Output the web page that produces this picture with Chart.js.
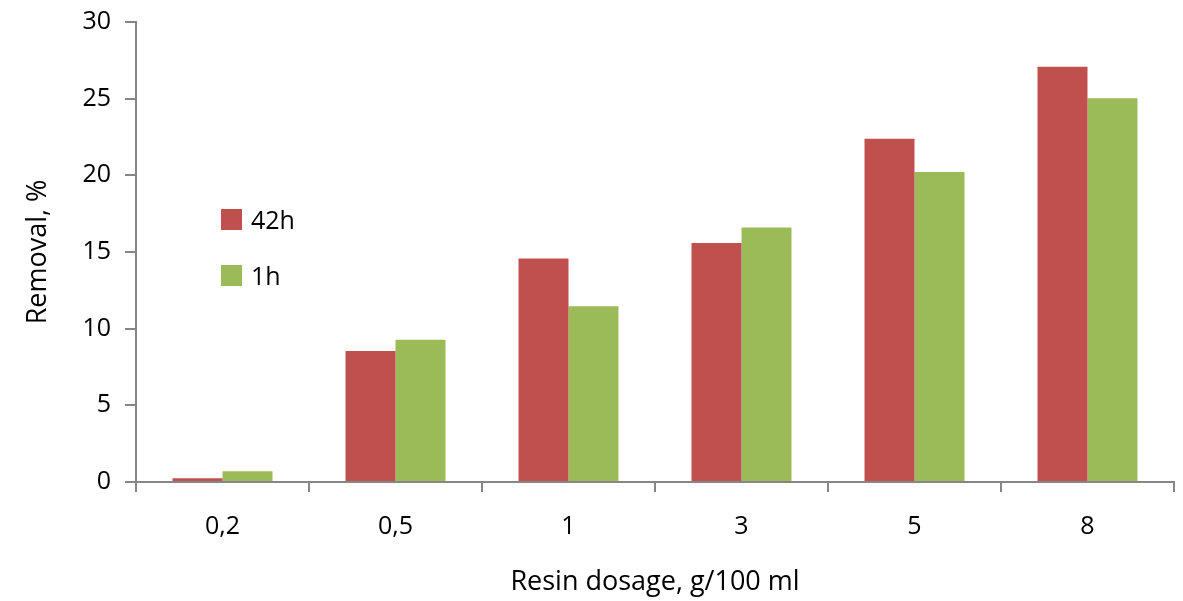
<!DOCTYPE html>
<html>
<head>
<meta charset="utf-8">
<script src="https://cdn.jsdelivr.net/npm/chart.js@4"></script>
<style>
  body { margin: 0; background: #fff; }
  #wrap { position: relative; width: 1183px; height: 601px; }
  .legend { position: absolute; left: 221px; font-family: "Open Sans", sans-serif; font-size: 25px; color: #000; }
  .legend span.box { display: inline-block; width: 21px; height: 21px; vertical-align: middle; margin-right: 9px; }
  .legend span.txt { vertical-align: middle; }
</style>
</head>
<body>
<div id="wrap">
  <canvas id="removal-chart" width="1183" height="601"></canvas>
  <div class="legend" style="top: 199px;"><span class="box" style="background:#C0504D"></span><span class="txt">42h</span></div>
  <div class="legend" style="top: 255px;"><span class="box" style="background:#9BBB59"></span><span class="txt">1h</span></div>
</div>
<script>
const dosages = ['0,2', '0,5', '1', '3', '5', '8'];
const removal42h = [0.25, 8.55, 14.57, 15.58, 22.38, 27.08];
const removal1h = [0.7, 9.28, 11.47, 16.6, 20.22, 25.02];
const yTicks = [0, 5, 10, 15, 20, 25, 30];

const axisColor = '#868686';
const fontFamily = '"Open Sans", sans-serif';

document.addEventListener('DOMContentLoaded', function () {
    const ctx = document.getElementById('removal-chart').getContext('2d');

    new Chart(ctx, {
        type: 'bar',
        data: {
            labels: dosages,
            datasets: [{
                label: '42h',
                data: removal42h,
                backgroundColor: '#C0504D'
            }, {
                label: '1h',
                data: removal1h,
                backgroundColor: '#9BBB59'
            }]
        },
        options: {
            responsive: false,
            animation: false,
            layout: {
                padding: { left: 22, right: 9, top: 22, bottom: 0 }
            },
            datasets: {
                bar: {
                    categoryPercentage: 0.578,
                    barPercentage: 1.0
                }
            },
            scales: {
                x: {
                    grid: {
                        drawOnChartArea: false,
                        drawTicks: true,
                        tickLength: 10,
                        color: axisColor,
                        lineWidth: 2
                    },
                    border: { color: axisColor, width: 2 },
                    ticks: {
                        color: '#000',
                        padding: 20,
                        font: { family: fontFamily, size: 25 }
                    },
                    title: {
                        display: true,
                        text: 'Resin dosage, g/100 ml',
                        color: '#000',
                        padding: { top: 10, bottom: 2 },
                        font: { family: fontFamily, size: 27 }
                    },
                    afterFit: function (scale) {
                        scale.height = 119;
                        scale.paddingLeft = 0;
                        scale.paddingRight = 0;
                    }
                },
                y: {
                    min: 0,
                    max: 30,
                    afterBuildTicks: function (scale) {
                        scale.ticks = yTicks.map(v => ({ value: v }));
                    },
                    grid: {
                        drawOnChartArea: false,
                        drawTicks: true,
                        tickLength: 11,
                        color: axisColor,
                        lineWidth: 2
                    },
                    border: { color: axisColor, width: 2 },
                    ticks: {
                        color: '#000',
                        padding: 14,
                        font: { family: fontFamily, size: 25 }
                    },
                    title: {
                        display: true,
                        text: 'Removal, %',
                        color: '#000',
                        padding: { top: 0, bottom: 0 },
                        font: { family: fontFamily, size: 27 }
                    },
                    afterFit: function (scale) {
                        scale.width = 114;
                        scale.paddingTop = 0;
                        scale.paddingBottom = 0;
                    }
                }
            },
            plugins: {
                legend: { display: false },
                tooltip: { enabled: false }
            }
        }
    });
});
</script>
</body>
</html>
